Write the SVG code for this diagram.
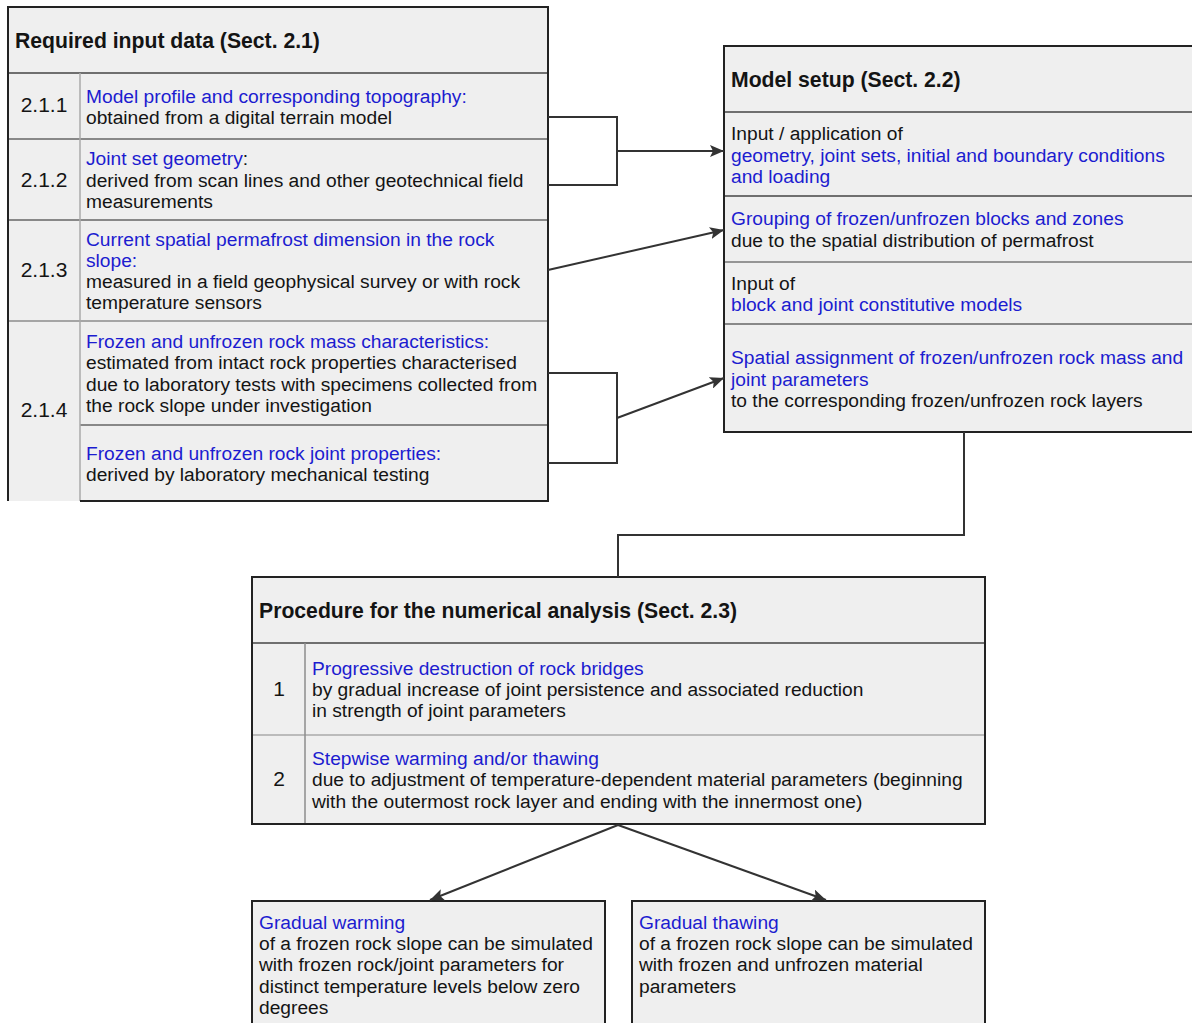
<svg xmlns="http://www.w3.org/2000/svg" width="1192" height="1023" viewBox="0 0 1192 1023">
<style>
.fill{fill:#efefef;stroke:none}
.bd{fill:none;stroke:#222;stroke-width:2}
.hl{stroke:#444;stroke-width:1.6}
.dv{stroke:#8c8c8c;stroke-width:1.5}
text{font-family:"Liberation Sans",Arial,sans-serif;font-size:19.2px;fill:#141414}
.h{font-weight:bold;font-size:21.2px}
.bl{fill:#1c1cd0}
.n{font-size:21px;text-anchor:middle}
.c{fill:none;stroke:#333;stroke-width:2}
</style>
<defs>
<marker id="ah" markerUnits="userSpaceOnUse" markerWidth="15" markerHeight="12" refX="14" refY="6" orient="auto">
<path d="M0,0 L14,6 L0,12 L3,6 z" fill="#333"/>
</marker>
</defs>
<g id="input-data">
<rect class="fill" x="8" y="7" width="540" height="494"/>
<line class="hl" x1="8" y1="73" x2="548" y2="73"/>
<line class="dv" x1="8" y1="139" x2="548" y2="139" style="stroke:#666"/>
<line class="dv" x1="8" y1="220" x2="548" y2="220" style="stroke:#666"/>
<line class="dv" x1="8" y1="321" x2="548" y2="321"/>
<line class="dv" x1="80" y1="425" x2="548" y2="425" style="stroke:#666"/>
<line class="dv" x1="80" y1="73" x2="80" y2="501" style="stroke:#aaa"/>
<path class="bd" d="M8,501 V7 H548 V501 H80"/>
<text class="h" x="15" y="48">Required input data (Sect. 2.1)</text>
<text class="n" x="44" y="112">2.1.1</text>
<text class="bl" x="86" y="103">Model profile and corresponding topography:</text>
<text x="86" y="124">obtained from a digital terrain model</text>
<text x="86" y="165"><tspan class="bl">Joint set geometry</tspan>:</text>
<text class="n" x="44" y="187">2.1.2</text>
<text x="86" y="187">derived from scan lines and other geotechnical field</text>
<text x="86" y="208">measurements</text>
<text class="bl" x="86" y="246">Current spatial permafrost dimension in the rock</text>
<text class="bl" x="86" y="267">slope:</text>
<text class="n" x="44" y="277">2.1.3</text>
<text x="86" y="288">measured in a field geophysical survey or with rock</text>
<text x="86" y="309">temperature sensors</text>
<text class="bl" x="86" y="348">Frozen and unfrozen rock mass characteristics:</text>
<text x="86" y="369">estimated from intact rock properties characterised</text>
<text x="86" y="391">due to laboratory tests with specimens collected from</text>
<text x="86" y="412">the rock slope under investigation</text>
<text class="n" x="44" y="417">2.1.4</text>
<text class="bl" x="86" y="460">Frozen and unfrozen rock joint properties:</text>
<text x="86" y="481">derived by laboratory mechanical testing</text>
</g>
<g id="model-setup">
<rect class="fill" x="724" y="46" width="480" height="386"/>
<line class="hl" x1="724" y1="112" x2="1192" y2="112"/>
<line class="hl" x1="724" y1="196" x2="1192" y2="196"/>
<line class="dv" x1="724" y1="262" x2="1192" y2="262" style="stroke:#777"/>
<line class="dv" x1="724" y1="324" x2="1192" y2="324" style="stroke:#666"/>
<path class="bd" d="M1200,46 H724 V432 H1200"/>
<text class="h" x="731" y="87">Model setup (Sect. 2.2)</text>
<text x="731" y="140">Input / application of</text>
<text class="bl" x="731" y="162">geometry, joint sets, initial and boundary conditions</text>
<text class="bl" x="731" y="183">and loading</text>
<text class="bl" x="731" y="225">Grouping of frozen/unfrozen blocks and zones</text>
<text x="731" y="247">due to the spatial distribution of permafrost</text>
<text x="731" y="290">Input of</text>
<text class="bl" x="731" y="311">block and joint constitutive models</text>
<text class="bl" x="731" y="364">Spatial assignment of frozen/unfrozen rock mass and</text>
<text class="bl" x="731" y="386">joint parameters</text>
<text x="731" y="407">to the corresponding frozen/unfrozen rock layers</text>
</g>
<g id="procedure">
<rect class="fill" x="252" y="577" width="733" height="247"/>
<line class="hl" x1="252" y1="643" x2="985" y2="643"/>
<line class="dv" x1="252" y1="735" x2="985" y2="735" style="stroke:#aaa"/>
<line class="dv" x1="305" y1="643" x2="305" y2="824"/>
<rect class="bd" x="252" y="577" width="733" height="247"/>
<text class="h" x="259" y="618">Procedure for the numerical analysis (Sect. 2.3)</text>
<text class="n" x="279" y="696">1</text>
<text class="bl" x="312" y="675">Progressive destruction of rock bridges</text>
<text x="312" y="696">by gradual increase of joint persistence and associated reduction</text>
<text x="312" y="717">in strength of joint parameters</text>
<text class="n" x="279" y="786">2</text>
<text class="bl" x="312" y="765">Stepwise warming and/or thawing</text>
<text x="312" y="786">due to adjustment of temperature-dependent material parameters (beginning</text>
<text x="312" y="808">with the outermost rock layer and ending with the innermost one)</text>
</g>
<g id="gradual-warming">
<rect class="fill" x="252" y="901" width="353" height="130"/>
<path class="bd" d="M252,1030 V901 H605 V1030"/>
<text class="bl" x="259" y="929">Gradual warming</text>
<text x="259" y="950">of a frozen rock slope can be simulated</text>
<text x="259" y="971">with frozen rock/joint parameters for</text>
<text x="259" y="993">distinct temperature levels below zero</text>
<text x="259" y="1014">degrees</text>
</g>
<g id="gradual-thawing">
<rect class="fill" x="632" y="901" width="353" height="130"/>
<path class="bd" d="M632,1030 V901 H985 V1030"/>
<text class="bl" x="639" y="929">Gradual thawing</text>
<text x="639" y="950">of a frozen rock slope can be simulated</text>
<text x="639" y="971">with frozen and unfrozen material</text>
<text x="639" y="993">parameters</text>
</g>
<g id="connectors">
<path class="c" d="M548,117 H617 V185 H548"/>
<line class="c" x1="617" y1="151" x2="724" y2="151" marker-end="url(#ah)"/>
<line class="c" x1="548" y1="270" x2="724" y2="230" marker-end="url(#ah)"/>
<path class="c" d="M548,373 H617 V463 H548"/>
<line class="c" x1="617" y1="418" x2="724" y2="378" marker-end="url(#ah)"/>
<path class="c" d="M964,432 V535 H618 V577"/>
<line class="c" x1="618" y1="825" x2="430" y2="900" marker-end="url(#ah)"/>
<line class="c" x1="618" y1="825" x2="826" y2="900" marker-end="url(#ah)"/>
</g>
</svg>
